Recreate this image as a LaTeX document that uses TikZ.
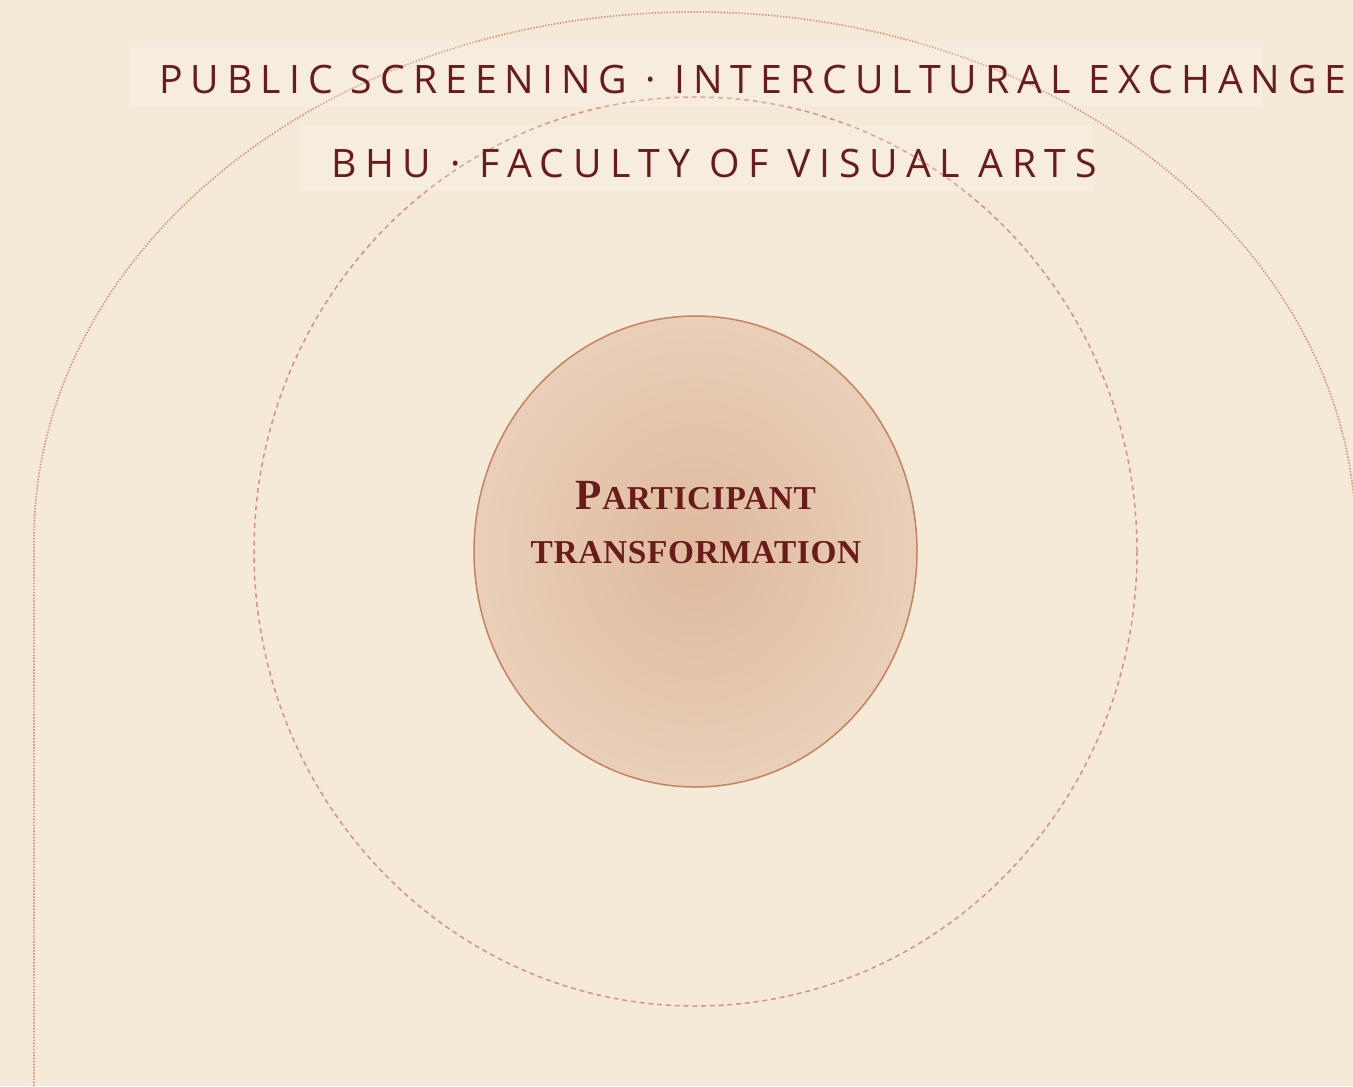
\documentclass[tikz,border=0pt]{standalone}
\usepackage{fontspec}
\setmainfont{Liberation Serif}
\newfontfamily\bandfont{Open Sans}[LetterSpace=22]
\newfontfamily\discfont{Liberation Serif}[LetterSpace=2]
\definecolor{paper}{HTML}{F5EAD7}
\definecolor{maroon}{HTML}{6A1B1B}
\definecolor{clay}{HTML}{D6937A}
\definecolor{rim}{HTML}{C9805E}
\definecolor{discin}{HTML}{DFBA9E}
\definecolor{discout}{HTML}{E9CFB9}
\tikzset{
	band/.style={fill=white, fill opacity=0.18, draw=none},
	bandtext/.style={inner sep=0pt, anchor=base, text=maroon, font=\bandfont\fontsize{22.3}{26}\selectfont},
	disctext/.style={inner sep=0pt, anchor=base, text=maroon, font=\discfont\bfseries\fontsize{19}{22}\selectfont},
}

\begin{document}
\begin{tikzpicture}[x=0.02cm, y=0.02cm]
			%%%%% START %%%%%
			
			\useasboundingbox (0, 0) rectangle (1353, -1086);
			\fill[paper] (0, 0) rectangle (1353, -1086);
			
			\draw[line width=0.95pt, color=clay, dash pattern=on 0.8pt off 0.9pt] (34, -1086) -- (34, -540) arc[start angle=180, end angle=0, x radius=661, y radius=528] -- (1356, -1086);
			\draw[line width=0.85pt, color=clay, dash pattern=on 2.8pt off 2.2pt] (695.5, -551.5) ellipse[x radius=441.5, y radius=454.5];
			
			\draw[line width=0.85pt, color=rim, inner color=discin, outer color=discout] (695.5, -551.5) ellipse[x radius=221.5, y radius=235.5];
			
			\fill[band] (129, -42) rectangle (1263, -107);
			\fill[band] (300, -125) rectangle (1093, -191);
			
			\node[bandtext] (screening) at (753, -93) {\addfontfeature{LetterSpace=20.4}PUBLIC SCREENING · INTERCULTURAL EXCHANGE};
			\node[bandtext] (faculty) at (714, -177) {BHU · FACULTY OF VISUAL ARTS};
			
			\node[disctext] (participant) at (696, -509) {{\fontsize{24.5}{26}\selectfont P}ARTICIPANT};
			\node[disctext] (transformation) at (696, -563) {TRANSFORMATION};
			
			%%%%% END %%%%%
\end{tikzpicture}
\end{document}
